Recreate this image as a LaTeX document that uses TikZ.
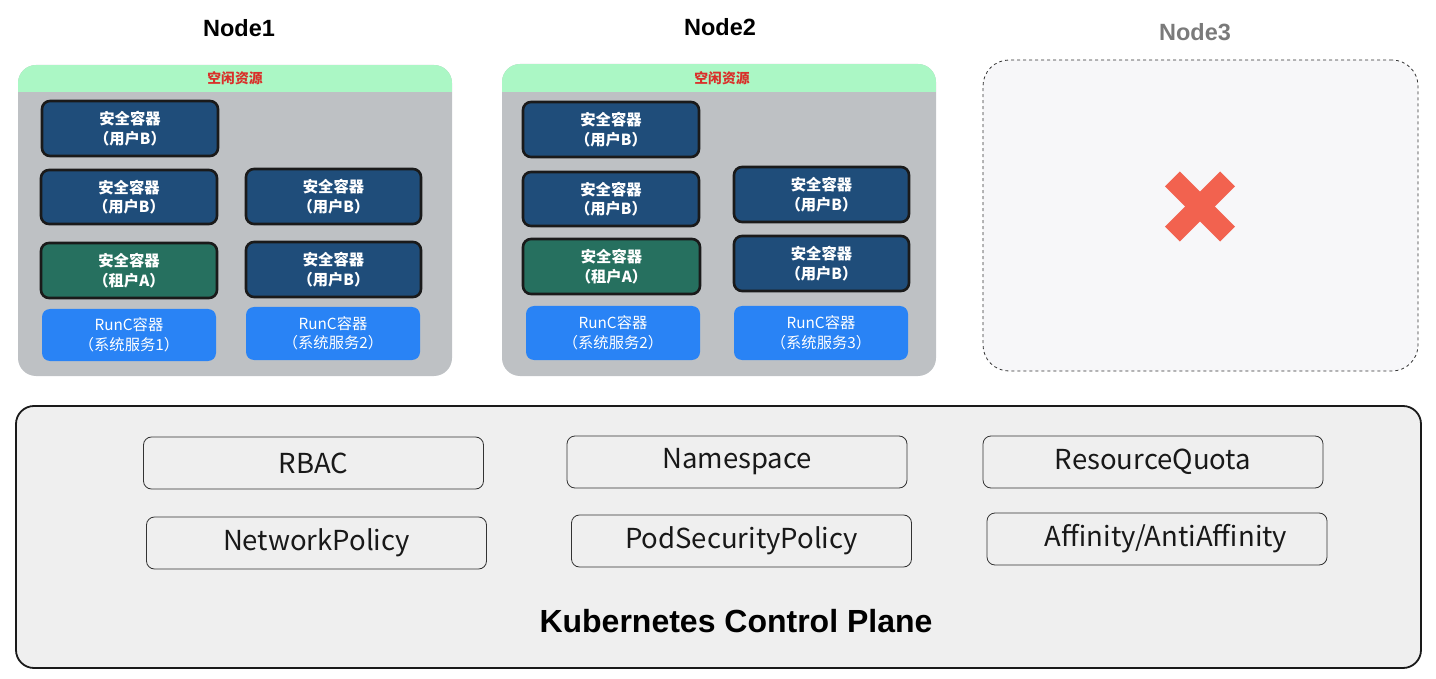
\documentclass[tikz,border=0pt]{standalone}
\usepackage{fontspec}
\setmainfont{Noto Sans CJK SC}
\newfontfamily\hel{Liberation Sans}
\definecolor{dkblue}{HTML}{1F4D7A}
\definecolor{teal}{HTML}{26705F}
\definecolor{runc}{HTML}{2983F5}
\definecolor{nodegray}{HTML}{BEC1C4}
\definecolor{band}{HTML}{ABF7C5}
\definecolor{bandred}{HTML}{D9302A}
\definecolor{n3fill}{HTML}{F7F7F9}
\definecolor{cpfill}{HTML}{EFEFEF}
\definecolor{xred}{HTML}{F2624F}
\definecolor{edge}{HTML}{1A1A1A}
\tikzset{
  title/.style={font=\hel\bfseries\fontsize{23.5}{28}\selectfont, text=black},
  container/.style={fill=nodegray, rounded corners=18pt, inner sep=0pt},
  secbox/.style={fill=dkblue, draw=edge, line width=2.6pt, rounded corners=8pt,
    text=white, align=center, inner sep=0pt,
    font=\bfseries\fontsize{15.3}{19.5}\selectfont},
  tenbox/.style={secbox, fill=teal},
  runcbox/.style={fill=runc, rounded corners=8pt, text=white, align=center, inner sep=0pt,
    font=\fontsize{15.3}{19.5}\selectfont},
  cpitem/.style={fill=cpfill, draw=black!80, line width=0.8pt, rounded corners=8pt,
    minimum width=340pt, minimum height=52pt, inner sep=0pt,
    font=\fontsize{27.5}{31}\selectfont, text=black!90},
}
\begin{document}
\begin{tikzpicture}[x=1pt,y=-1pt]
\useasboundingbox (0,0) rectangle (1436,679);
% titles
\node[title] (t1) at (239,28) {Node1};
\node[title] (t2) at (720,27) {Node2};
\node[title, text=black!52] (t3) at (1195,32) {Node3};

% Node1 container
\node[container, minimum width=434pt, minimum height=311pt] (n1) at (235,220.5) {};
\begin{scope}
  \clip[rounded corners=18pt] (18,65) rectangle (452,376);
  \fill[band] (18,65) rectangle (452,92);
\end{scope}
\node[text=bandred, font=\bfseries\fontsize{13.8}{15}\selectfont] (f1) at (235,78.5) {空闲资源};
\node[secbox, minimum width=176pt, minimum height=55pt] (n1a) at (130,128.5) {安全容器\\（用户B）};
\node[secbox, minimum width=176pt, minimum height=54pt] (n1b) at (129,197) {安全容器\\（用户B）};
\node[secbox, minimum width=175pt, minimum height=55pt] (n1c) at (333.5,196.5) {安全容器\\（用户B）};
\node[tenbox, minimum width=176pt, minimum height=55pt] (n1d) at (129,270.5) {安全容器\\（租户A）};
\node[secbox, minimum width=175pt, minimum height=55pt] (n1e) at (333.5,269.5) {安全容器\\（用户B）};
\node[runcbox, minimum width=174pt, minimum height=52pt] (n1f) at (129,335) {RunC容器\\（系统服务1）};
\node[runcbox, minimum width=174pt, minimum height=53pt] (n1g) at (333,333.5) {RunC容器\\（系统服务2）};

% Node2 container
\node[container, minimum width=434pt, minimum height=312pt] (n2) at (719,220) {};
\begin{scope}
  \clip[rounded corners=18pt] (502,64) rectangle (936,376);
  \fill[band] (502,64) rectangle (936,92);
\end{scope}
\node[text=bandred, font=\bfseries\fontsize{13.8}{15}\selectfont] (f2) at (722,78) {空闲资源};
\node[secbox, minimum width=176pt, minimum height=55pt] (n2a) at (611,129.5) {安全容器\\（用户B）};
\node[secbox, minimum width=176pt, minimum height=54pt] (n2b) at (611,199) {安全容器\\（用户B）};
\node[secbox, minimum width=175pt, minimum height=55pt] (n2c) at (821.5,194.5) {安全容器\\（用户B）};
\node[tenbox, minimum width=177pt, minimum height=55pt] (n2d) at (611.5,266.5) {安全容器\\（租户A）};
\node[secbox, minimum width=175pt, minimum height=55pt] (n2e) at (821.5,263.5) {安全容器\\（用户B）};
\node[runcbox, minimum width=174pt, minimum height=54pt] (n2f) at (613,333) {RunC容器\\（系统服务2）};
\node[runcbox, minimum width=174pt, minimum height=54pt] (n2g) at (821,333) {RunC容器\\（系统服务3）};

% Node3
\node[fill=n3fill, draw=black!80, dashed, line width=0.8pt, rounded corners=26pt,
  minimum width=435pt, minimum height=311pt, inner sep=0pt] (n3) at (1200.5,215.5) {};
\coordinate (xc) at (1200,206.5);
\draw[xred, line width=21pt] ([shift={(-27.6,-27.6)}]xc) -- ([shift={(27.6,27.6)}]xc);
\draw[xred, line width=21pt] ([shift={(-27.6,27.6)}]xc) -- ([shift={(27.6,-27.6)}]xc);

% Control plane
\node[fill=cpfill, draw=edge, line width=1.8pt, rounded corners=18pt,
  minimum width=1405pt, minimum height=262pt, inner sep=0pt] (cp) at (718.5,537) {};
\node[cpitem] (rbac) at (313.5,463) {RBAC};
\node[cpitem] (ns) at (737,462) {Namespace};
\node[cpitem] (rq) at (1153,462) {ResourceQuota};
\node[cpitem] (np) at (316.5,543) {NetworkPolicy};
\node[cpitem] (psp) at (741.5,541) {PodSecurityPolicy};
\node[cpitem] (aff) at (1157,539) {\hspace*{18pt}Affinity/AntiAffinity};
\node[font=\hel\bfseries\fontsize{32}{36}\selectfont] (cpt) at (736,621) {Kubernetes Control Plane};
\end{tikzpicture}
\end{document}
